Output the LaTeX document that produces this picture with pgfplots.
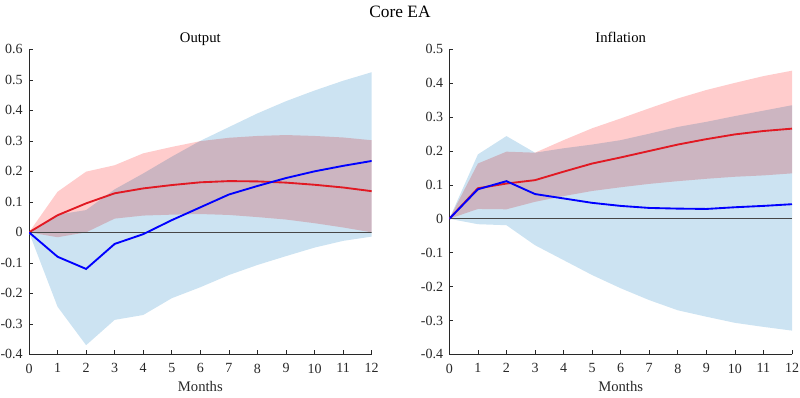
\documentclass[border=0pt]{standalone}
\usepackage{fontspec}
\setmainfont{Liberation Serif}
\usepackage{pgfplots}
\usepackage{pgfplotstable}
\pgfplotsset{compat=1.18}
\usepgfplotslibrary{fillbetween}
\definecolor{bandblue}{RGB}{204,227,242}
\definecolor{bandred}{RGB}{255,204,204}
\definecolor{linered}{RGB}{225,25,35}
\definecolor{lineblue}{RGB}{0,0,255}
\definecolor{axgray}{RGB}{40,40,40}
\definecolor{zerogray}{RGB}{70,70,70}

% Output: m, blue lower, blue upper, blue line, red lower, red upper, red line
\pgfplotstableread{
m blo bhi bl rlo rhi rl
0 0 0 0 0 0 0
1 -0.244 0.058 -0.080 -0.016 0.133 0.056
2 -0.370 0.073 -0.120 0.000 0.199 0.095
3 -0.287 0.141 -0.038 0.045 0.220 0.128
4 -0.271 0.193 -0.006 0.055 0.259 0.144
5 -0.216 0.248 0.040 0.058 0.280 0.155
6 -0.180 0.300 0.082 0.060 0.299 0.164
7 -0.140 0.345 0.124 0.057 0.310 0.168
8 -0.107 0.390 0.152 0.050 0.316 0.167
9 -0.078 0.430 0.178 0.042 0.319 0.163
10 -0.050 0.465 0.200 0.030 0.316 0.156
11 -0.028 0.497 0.218 0.016 0.311 0.147
12 -0.014 0.525 0.234 0.000 0.302 0.135
}\outputtab

% Inflation
\pgfplotstableread{
m blo bhi bl rlo rhi rl
0 0 0 0 0 0 0
1 -0.016 0.190 0.087 0.029 0.163 0.090
2 -0.019 0.244 0.111 0.028 0.198 0.104
3 -0.078 0.195 0.073 0.050 0.195 0.114
4 -0.122 0.208 0.060 0.067 0.232 0.139
5 -0.166 0.219 0.047 0.082 0.267 0.163
6 -0.205 0.232 0.038 0.093 0.296 0.181
7 -0.240 0.251 0.032 0.103 0.326 0.200
8 -0.270 0.271 0.030 0.111 0.355 0.219
9 -0.289 0.286 0.029 0.118 0.380 0.235
10 -0.307 0.303 0.034 0.124 0.401 0.249
11 -0.319 0.319 0.038 0.128 0.421 0.259
12 -0.330 0.335 0.043 0.134 0.437 0.266
}\inflationtab

\pgfplotsset{
  every axis title shift=0pt,
  irf/.style={
    scale only axis, width=257pt, height=228.75pt,
    xmin=0, xmax=12, xtick={0,...,12},
    axis x line*=bottom, axis y line*=left,
    tick align=inside, major tick length=3pt,
    axis line style={axgray, line width=0.5pt},
    tick style={axgray, line width=0.5pt},
    every tick label/.append style={font=\fontsize{10.5}{12}\selectfont, text=axgray},
    /pgf/number format/assume math mode=true,
    xticklabel style={inner xsep=0pt, yshift=-3.5pt},
    yticklabel style={inner xsep=0pt, xshift=-4.5pt},
    xlabel=Months,
    xlabel style={font=\fontsize{11}{13}\selectfont, text=axgray, at={(axis description cs:0.5,0)}, anchor=base, yshift=-27.5pt},
    title style={font=\fontsize{11}{13}\selectfont, text=black, at={(axis description cs:0.5,1)}, anchor=base, yshift=5pt},
  }
}

\begin{document}
\begin{tikzpicture}
\path (0,0) rectangle (600pt,297.75pt);
\node[font=\fontsize{13}{15}\selectfont] at (300pt,288.75pt) {Core EA};

\begin{axis}[irf, at={(21.75pt,32pt)}, anchor=south west,
  ymin=-0.4, ymax=0.6,
  ytick={-0.4,-0.3,-0.2,-0.1,0,0.1,0.2,0.3,0.4,0.5,0.6},
  yticklabels={-0.4,-0.3,-0.2,-0.1,0,0.1,0.2,0.3,0.4,0.5,0.6},
  title=Output]
  \addplot[name path=bhi, draw=none] table[x=m,y=bhi]{\outputtab};
  \addplot[name path=blo, draw=none] table[x=m,y=blo]{\outputtab};
  \addplot[bandblue, draw=none] fill between[of=bhi and blo];
  \addplot[name path=rhi, draw=none] table[x=m,y=rhi]{\outputtab};
  \addplot[name path=rlo, draw=none] table[x=m,y=rlo]{\outputtab};
  \addplot[bandred, draw=none, blend mode=multiply] fill between[of=rhi and rlo];
  \addplot[zerogray, line width=0.6pt] coordinates {(0,0) (12,0)};
  \addplot[linered, line width=1.4pt] table[x=m,y=rl]{\outputtab};
  \addplot[lineblue, line width=1.4pt] table[x=m,y=bl]{\outputtab};
\end{axis}

\begin{axis}[irf, at={(337pt,32pt)}, anchor=south west,
  ymin=-0.4, ymax=0.5,
  ytick={-0.4,-0.3,-0.2,-0.1,0,0.1,0.2,0.3,0.4,0.5},
  yticklabels={-0.4,-0.3,-0.2,-0.1,0,0.1,0.2,0.3,0.4,0.5},
  title=Inflation]
  \addplot[name path=bhi, draw=none] table[x=m,y=bhi]{\inflationtab};
  \addplot[name path=blo, draw=none] table[x=m,y=blo]{\inflationtab};
  \addplot[bandblue, draw=none] fill between[of=bhi and blo];
  \addplot[name path=rhi, draw=none] table[x=m,y=rhi]{\inflationtab};
  \addplot[name path=rlo, draw=none] table[x=m,y=rlo]{\inflationtab};
  \addplot[bandred, draw=none, blend mode=multiply] fill between[of=rhi and rlo];
  \addplot[zerogray, line width=0.6pt] coordinates {(0,0) (12,0)};
  \addplot[linered, line width=1.4pt] table[x=m,y=rl]{\inflationtab};
  \addplot[lineblue, line width=1.4pt] table[x=m,y=bl]{\inflationtab};
\end{axis}
\end{tikzpicture}
\end{document}
